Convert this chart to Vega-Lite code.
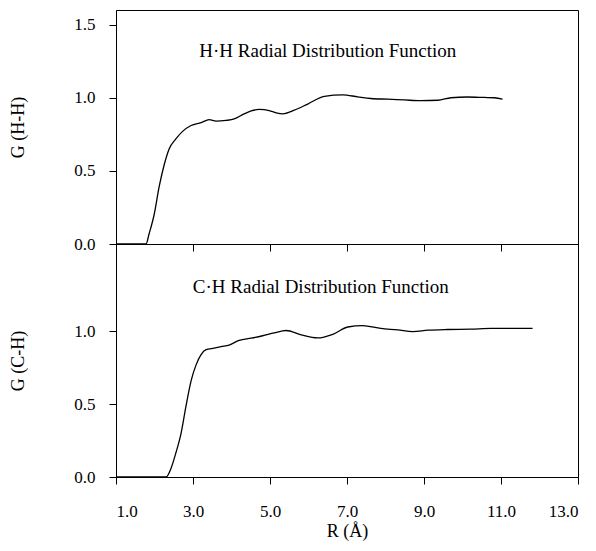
{
  "$schema": "https://vega.github.io/schema/vega-lite/v6.json",
  "background": "white",
  "padding": {"left": 9, "top": 9, "right": 3, "bottom": 2},
  "spacing": 0,
  "bounds": "flush",
  "datasets": {
    "hh": [
      {"R": 1.0, "G": 0}, {"R": 1.5, "G": 0}, {"R": 1.78, "G": 0}, {"R": 1.86, "G": 0.07},
      {"R": 1.99, "G": 0.2}, {"R": 2.12, "G": 0.39}, {"R": 2.25, "G": 0.54}, {"R": 2.38, "G": 0.65},
      {"R": 2.56, "G": 0.72}, {"R": 2.73, "G": 0.77}, {"R": 2.95, "G": 0.81}, {"R": 3.21, "G": 0.83},
      {"R": 3.42, "G": 0.85}, {"R": 3.6, "G": 0.84}, {"R": 3.86, "G": 0.845}, {"R": 4.07, "G": 0.855},
      {"R": 4.33, "G": 0.89}, {"R": 4.51, "G": 0.91}, {"R": 4.72, "G": 0.92}, {"R": 4.98, "G": 0.912},
      {"R": 5.16, "G": 0.897}, {"R": 5.33, "G": 0.89}, {"R": 5.63, "G": 0.915}, {"R": 5.98, "G": 0.957},
      {"R": 6.41, "G": 1.01}, {"R": 6.89, "G": 1.02}, {"R": 7.28, "G": 1.006}, {"R": 7.62, "G": 0.995},
      {"R": 8.06, "G": 0.99}, {"R": 8.49, "G": 0.985}, {"R": 8.92, "G": 0.98}, {"R": 9.36, "G": 0.983},
      {"R": 9.7, "G": 1.0}, {"R": 10.13, "G": 1.005}, {"R": 10.57, "G": 1.002}, {"R": 10.83, "G": 1.0},
      {"R": 11.04, "G": 0.99}
    ],
    "ch": [
      {"R": 1.0, "G": 0}, {"R": 1.8, "G": 0}, {"R": 2.3, "G": 0}, {"R": 2.43, "G": 0.06},
      {"R": 2.56, "G": 0.17}, {"R": 2.69, "G": 0.3}, {"R": 2.82, "G": 0.49}, {"R": 2.95, "G": 0.66},
      {"R": 3.08, "G": 0.77}, {"R": 3.21, "G": 0.84}, {"R": 3.34, "G": 0.874}, {"R": 3.55, "G": 0.885},
      {"R": 3.73, "G": 0.895}, {"R": 3.94, "G": 0.906}, {"R": 4.2, "G": 0.938}, {"R": 4.51, "G": 0.953},
      {"R": 4.81, "G": 0.97}, {"R": 5.11, "G": 0.99}, {"R": 5.42, "G": 1.006}, {"R": 5.81, "G": 0.976},
      {"R": 6.24, "G": 0.955}, {"R": 6.63, "G": 0.98}, {"R": 7.02, "G": 1.03}, {"R": 7.41, "G": 1.04},
      {"R": 7.88, "G": 1.02}, {"R": 8.32, "G": 1.01}, {"R": 8.71, "G": 0.998}, {"R": 9.1, "G": 1.008},
      {"R": 9.62, "G": 1.013}, {"R": 10.22, "G": 1.015}, {"R": 10.74, "G": 1.02}, {"R": 11.26, "G": 1.02},
      {"R": 11.82, "G": 1.02}
    ]
  },
  "vconcat": [
    {
      "width": 462,
      "height": 234,
      "layer": [
        {
          "data": {"name": "hh"},
          "mark": {"type": "line", "color": "black", "strokeWidth": 1.3, "interpolate": "monotone"},
          "encoding": {
            "x": {"field": "R", "type": "quantitative", "scale": {"domain": [1, 13]},
                  "axis": {"values": [1, 3, 5, 7, 9, 11, 13], "labels": false, "title": null}},
            "y": {"field": "G", "type": "quantitative", "scale": {"domain": [0, 1.5]},
                  "axis": {"values": [0, 0.5, 1, 1.5], "format": ".1f", "title": "G (H-H)"}}
          }
        },
        {
          "data": {"values": [{"R": 6.5, "G": 1.276, "label": "H·H Radial Distribution Function"}]},
          "mark": {"type": "text", "fontSize": 19, "font": "Liberation Serif", "baseline": "alphabetic", "align": "center", "color": "black"},
          "encoding": {
            "x": {"field": "R", "type": "quantitative"},
            "y": {"field": "G", "type": "quantitative"},
            "text": {"field": "label"}
          }
        }
      ]
    },
    {
      "width": 462,
      "height": 233,
      "layer": [
        {
          "data": {"name": "ch"},
          "mark": {"type": "line", "color": "black", "strokeWidth": 1.3, "interpolate": "monotone"},
          "encoding": {
            "x": {"field": "R", "type": "quantitative", "scale": {"domain": [1, 13]},
                  "axis": {"values": [1, 3, 5, 7, 9, 11, 13], "format": ".1f", "title": "R (Å)"}},
            "y": {"field": "G", "type": "quantitative", "scale": {"domain": [0, 1.5]},
                  "axis": {"values": [0, 0.5, 1], "format": ".1f", "title": "G (C-H)"}}
          }
        },
        {
          "data": {"values": [{"R": 6.32, "G": 1.263, "label": "C·H Radial Distribution Function"}]},
          "mark": {"type": "text", "fontSize": 19, "font": "Liberation Serif", "baseline": "alphabetic", "align": "center", "color": "black"},
          "encoding": {
            "x": {"field": "R", "type": "quantitative"},
            "y": {"field": "G", "type": "quantitative"},
            "text": {"field": "label"}
          }
        }
      ]
    }
  ],
  "config": {
    "font": "Liberation Serif",
    "view": {"stroke": "black", "strokeWidth": 1},
    "axis": {
      "grid": false,
      "domainColor": "black",
      "tickColor": "black",
      "tickSize": 7,
      "labelColor": "black",
      "labelFont": "Liberation Serif",
      "labelFontSize": 17,
      "titleFont": "Liberation Serif",
      "titleFontSize": 18,
      "titleFontWeight": "normal",
      "titleColor": "black"
    },
    "axisY": {"labelPadding": 14, "titlePadding": 46},
    "axisX": {"labelPadding": 19, "titlePadding": 3}
  }
}
